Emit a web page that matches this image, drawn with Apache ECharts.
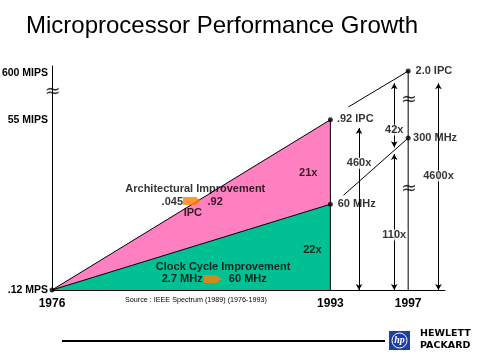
<!DOCTYPE html>
<html>
<head>
<meta charset="utf-8">
<script src="https://cdn.jsdelivr.net/npm/echarts@6/dist/echarts.min.js"></script>
<style>html,body{margin:0;padding:0;background:#fff}#c{width:480px;height:360px}</style>
</head>
<body>
<div id="c"></div>
<script>
// ---- Data (levels in decades above .12 MIPS; schematic x in years) ----
var yearTicks = [1976, 1993, 1997.75];
var yearLabels = ['1976', '1993', '1997'];
var perfTicks = [0, 2.66, 3.39];
var perfLabels = ['.12 MPS', '55 MIPS', '600 MIPS'];
var archTop = [[1976, 0], [1993, 2.66]];        // total performance (21x * 22x)
var clockTop = [[1976, 0], [1993, 1.34]];       // clock cycle improvement (22x)
var line1993 = [[1993, 0], [1993, 2.66]];
var line1997 = [[1997.75, 0], [1997.75, 3.42]];
var ipcTrend = [[1994.1, 2.86], [1997.75, 3.42]];
var clockTrend = [[1993.8, 1.48], [1997.75, 2.375]];
var dots = [[1976, 0], [1993, 2.66], [1993, 1.34], [1997.75, 3.42], [1997.75, 2.375]];
var arrows = [
  [[1994.75, 2.53], [1994.75, 0]],
  [[1996.9, 3.23], [1996.9, 2.23]],
  [[1996.9, 2.125], [1996.9, 0]],
  [[1999.6, 3.23], [1999.6, 0]]
];
var areaLabels = ['21x', '22x'];
var factorLabels = ['460x', '42x', '110x', '4600x'];
var pointLabels = ['.92 IPC', '2.0 IPC', '300 MHz', '60 MHz'];
var noteLabels = ['Architectural Improvement', '.045', '.92', 'IPC', 'Clock Cycle Improvement', '2.7 MHz', '60 MHz'];

// ---- Layout of annotations (data coordinates) ----
var areaPos = [[1991.65, 1.83], [1991.9, 0.625]];
var factorPos = [[1994.75, 1.98], [1996.9, 2.5], [1996.9, 0.86], [1999.6, 1.78]];
var pointPos = [[1993.4, 2.67], [1998.2, 3.42], [1998.05, 2.375], [1993.45, 1.34]];
var notePos = [[1984.75, 1.58, 'c'], [1984.0, 1.375, 'r'], [1985.5, 1.375, 'l'], [1984.6, 1.2, 'c'],
               [1986.45, 0.36, 'c'], [1982.7, 0.175, 'l'], [1986.8, 0.175, 'l']];
var breakPos = [[1976.05, 3.09], [1997.8, 2.97], [1997.8, 1.58]];
var orangeArrowPos = [[1984.55, 1.39], [1985.8, 0.17]];

var FONT = 'Liberation Sans';
var bold = {fontFamily: FONT, fontWeight: 'bold', fontSize: 11, color: '#000'};

function lineSeries(d, extra) {
  return Object.assign({type: 'line', data: d, symbol: 'none', silent: true, animation: false,
    lineStyle: {color: '#000', width: 1}, z: 3}, extra || {});
}
function textSeries(labels, pos, anchorDefault, style, bg) {
  return {
    type: 'scatter', symbolSize: 0, silent: true, animation: false, clip: false, z: 6,
    data: labels.map(function (t, i) {
      var a = pos[i][2] || anchorDefault;
      return {value: [pos[i][0], pos[i][1]], label: {
        show: true, formatter: t,
        position: a === 'l' ? 'right' : (a === 'r' ? 'left' : 'inside'),
        distance: 0,
        backgroundColor: bg || 'transparent', padding: bg ? [0, 1] : 0
      }};
    }),
    label: Object.assign({}, style)
  };
}

var chart = echarts.init(document.getElementById('c'), null, {renderer: 'canvas'});
chart.setOption({
  animation: false,
  backgroundColor: '#fff',
  title: {text: 'Microprocessor Performance Growth', left: 26, top: 14, padding: 0,
    textStyle: {fontFamily: FONT, fontSize: 24, fontWeight: 'normal', color: '#000'}},
  grid: {left: 52, right: 35, top: 66, bottom: 70, containLabel: false, outerBoundsMode: 'none'},
  xAxis: {type: 'value', min: 1976, max: 2000,
    axisLine: {show: true, lineStyle: {color: '#000', width: 1}},
    axisTick: {show: false}, splitLine: {show: false},
    axisLabel: {customValues: yearTicks, margin: 8,
      formatter: function (v) { var i = yearTicks.indexOf(v); return i >= 0 ? yearLabels[i] : ''; },
      fontFamily: FONT, fontWeight: 'bold', fontSize: 12, color: '#000'}},
  yAxis: {type: 'value', min: 0, max: 3.5,
    axisLine: {show: true, lineStyle: {color: '#000', width: 1}},
    axisTick: {show: false}, splitLine: {show: false},
    axisLabel: {customValues: perfTicks, margin: 4,
      formatter: function (v) { var i = perfTicks.indexOf(v); return i >= 0 ? perfLabels[i] : ''; },
      fontFamily: FONT, fontWeight: 'bold', fontSize: 10.5, color: '#000'}},
  series: [
    lineSeries(archTop, {areaStyle: {color: '#FF80C0', opacity: 1}, z: 2}),
    lineSeries(clockTop, {areaStyle: {color: '#00C094', opacity: 1}, z: 2}),
    lineSeries(line1993),
    lineSeries(line1997),
    lineSeries(ipcTrend),
    lineSeries(clockTrend),
    {type: 'scatter', data: dots, symbolSize: 5, itemStyle: {color: '#000'}, silent: true, z: 5, animation: false},
    {type: 'scatter', data: orangeArrowPos, symbol: 'path://M0,0 L13,0 L18,4 L13,8 L0,8 Z', symbolSize: [18, 8],
      symbolKeepAspect: false,
      itemStyle: {color: '#FF8000'}, silent: true, z: 5, animation: false},
    {type: 'line', data: [], silent: true, animation: false,
      markLine: {silent: true, symbol: ['arrow', 'arrow'], symbolSize: [5, 6], animation: false,
        lineStyle: {color: '#000', width: 1, type: 'solid'}, label: {show: false},
        data: arrows.map(function (a) { return [{coord: a[0]}, {coord: a[1]}]; })}},
    textSeries(areaLabels, areaPos, 'c', bold),
    textSeries(factorLabels, factorPos, 'c', bold, '#fff'),
    textSeries(pointLabels, pointPos, 'l', bold),
    textSeries(noteLabels, notePos, 'c', bold),
    textSeries(breakPos.map(function () { return '\u2248'; }), breakPos, 'c',
      {fontFamily: 'DejaVu Sans', fontSize: 19, color: '#000'})
  ],
  graphic: [
    {type: 'text', left: 125, top: 297, style: {text: 'Source : IEEE Spectrum (1989) (1976-1993)',
      font: '7.2px "Liberation Sans"', fill: '#000'}},
    {type: 'line', shape: {x1: 62, y1: 341, x2: 385, y2: 341}, style: {stroke: '#000', lineWidth: 2}},
    {type: 'rect', shape: {x: 389, y: 331, width: 21, height: 19}, style: {fill: '#1f3f9f'}},
    {type: 'circle', shape: {cx: 399.5, cy: 340.5, r: 7.5}, style: {fill: 'none', stroke: '#fff', lineWidth: 1}},
    {type: 'text', x: 399.5, y: 340.5, style: {text: 'hp', font: 'italic bold 10px "Liberation Serif"', fill: '#fff',
      align: 'center', verticalAlign: 'middle'}},
    {type: 'text', x: 420, y: 334, style: {text: 'HEWLETT', font: 'bold 9.5px "DejaVu Sans"', fill: '#000', verticalAlign: 'middle'}},
    {type: 'text', x: 420, y: 346, style: {text: 'PACKARD', font: 'bold 9.5px "DejaVu Sans"', fill: '#000', verticalAlign: 'middle'}}
  ]
});
</script>
</body>
</html>
